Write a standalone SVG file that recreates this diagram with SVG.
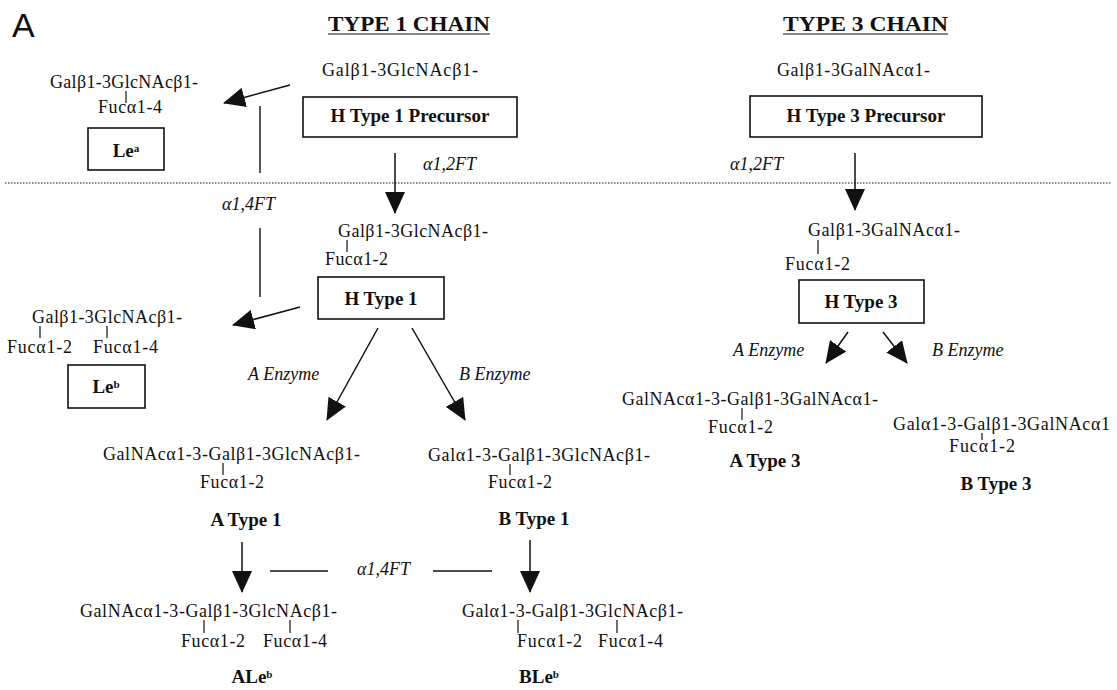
<svg xmlns="http://www.w3.org/2000/svg" width="1117" height="690" viewBox="0 0 1117 690">
<style>
  text { font-family: "Liberation Serif", "Times New Roman", serif; fill: #111; }
  .t { font-family: "Liberation Serif", "Times New Roman", serif; font-size: 18px; }
  .b { font-family: "Liberation Serif", "Times New Roman", serif; font-size: 19px; font-weight: bold; }
  .i { font-family: "Liberation Serif", "Times New Roman", serif; font-size: 18px; font-style: italic; }
  .h { font-family: "Liberation Serif", "Times New Roman", serif; font-size: 22px; font-weight: bold; }
  .sup { font-size: 11px; }
  .box { fill: #fff; stroke: #111; stroke-width: 1.6; }
  .ln { stroke: #111; stroke-width: 1.4; fill: none; }
  .tk { stroke: #111; stroke-width: 1.2; }
  .ar { stroke: #111; stroke-width: 1.5; fill: none; marker-end: url(#ah); }
</style>
<defs>
  <marker id="ah" viewBox="0 0 22 20" refX="21" refY="10" markerWidth="22" markerHeight="20" markerUnits="userSpaceOnUse" orient="auto">
    <path d="M0,0 L22,10 L0,20 z" fill="#111"/>
  </marker>
</defs>
<rect width="1117" height="690" fill="#fff"/>

<text x="12" y="37" style="font-family:'Liberation Sans',Arial,sans-serif;font-size:34px">A</text>
<g id="title1"><text class="h" x="328" y="31" textLength="162" lengthAdjust="spacingAndGlyphs">TYPE 1 CHAIN</text><line class="tk" x1="328" y1="34" x2="490" y2="34"/></g>
<g id="title3"><text class="h" x="783" y="31" textLength="165" lengthAdjust="spacingAndGlyphs">TYPE 3 CHAIN</text><line class="tk" x1="783" y1="34" x2="948" y2="34"/></g>

<line x1="5" y1="183" x2="1112" y2="183" stroke="#111" stroke-width="1.2" stroke-dasharray="1.5 1.5"/>

<g id="connectors">
  <line class="ar" x1="290" y1="85" x2="224" y2="103"/>
  <line class="ar" x1="300" y1="307" x2="233" y2="325"/>
  <line class="ar" x1="395" y1="153" x2="395" y2="213"/>
  <line class="ar" x1="855" y1="153" x2="855" y2="210"/>
  <line class="ar" x1="378" y1="328" x2="327" y2="420"/>
  <line class="ar" x1="412" y1="328" x2="465" y2="420"/>
  <line class="ar" x1="848" y1="332" x2="826" y2="363"/>
  <line class="ar" x1="883" y1="332" x2="907" y2="363"/>
  <line class="ar" x1="242" y1="542" x2="242" y2="592"/>
  <line class="ar" x1="530" y1="540" x2="530" y2="592"/>
  <line class="ln" x1="260" y1="106" x2="260" y2="173"/>
  <line class="ln" x1="260" y1="228" x2="260" y2="297"/>
  <line class="ln" x1="270" y1="571" x2="328" y2="571"/>
  <line class="ln" x1="433" y1="571" x2="492" y2="571"/>
  <text class="i" x="423" y="170">α1,2FT</text>
  <text class="i" x="730" y="170">α1,2FT</text>
  <text class="i" x="222" y="210">α1,4FT</text>
  <text class="i" x="357" y="575">α1,4FT</text>
  <text class="i" x="248" y="380">A Enzyme</text>
  <text class="i" x="459" y="380">B Enzyme</text>
  <text class="i" x="733" y="356">A Enzyme</text>
  <text class="i" x="932" y="356">B Enzyme</text>
</g>

<g id="h1precursor">
  <text class="t" x="322" y="76" textLength="156" lengthAdjust="spacing">Galβ1-3GlcNAcβ1-</text>
  <rect class="box" x="303" y="97" width="214" height="40"/>
  <text class="b" x="410" y="122" text-anchor="middle">H Type 1 Precursor</text>
</g>

<g id="h3precursor">
  <text class="t" x="777" y="76" textLength="153" lengthAdjust="spacing">Galβ1-3GalNAcα1-</text>
  <rect class="box" x="750" y="96" width="232" height="41"/>
  <text class="b" x="866" y="122" text-anchor="middle">H Type 3 Precursor</text>
</g>

<g id="lea">
  <text class="t" x="50" y="88" textLength="148" lengthAdjust="spacing">Galβ1-3GlcNAcβ1-</text>
  <line class="tk" x1="126" y1="91" x2="126" y2="103"/>
  <text class="t" x="98" y="113" textLength="64" lengthAdjust="spacing">Fucα1-4</text>
  <rect class="box" x="88" y="128" width="76" height="42"/>
  <text class="b" x="126" y="157" text-anchor="middle">Le<tspan class="sup" dy="-5">a</tspan></text>
</g>

<g id="htype1">
  <text class="t" x="338" y="237" textLength="150" lengthAdjust="spacing">Galβ1-3GlcNAcβ1-</text>
  <line class="tk" x1="347" y1="240" x2="347" y2="252"/>
  <text class="t" x="325" y="265" textLength="63" lengthAdjust="spacing">Fucα1-2</text>
  <rect class="box" x="318" y="277" width="126" height="42"/>
  <text class="b" x="381" y="305" text-anchor="middle">H Type 1</text>
</g>

<g id="leb">
  <text class="t" x="32" y="323" textLength="150" lengthAdjust="spacing">Galβ1-3GlcNAcβ1-</text>
  <line class="tk" x1="40" y1="326" x2="40" y2="338"/>
  <line class="tk" x1="107" y1="326" x2="107" y2="338"/>
  <text class="t" x="7" y="353" textLength="65" lengthAdjust="spacing">Fucα1-2</text>
  <text class="t" x="93" y="353" textLength="65" lengthAdjust="spacing">Fucα1-4</text>
  <rect class="box" x="68" y="365" width="77" height="43"/>
  <text class="b" x="106" y="393" text-anchor="middle">Le<tspan class="sup" dy="-5">b</tspan></text>
</g>

<g id="htype3">
  <text class="t" x="808" y="236" textLength="152" lengthAdjust="spacing">Galβ1-3GalNAcα1-</text>
  <line class="tk" x1="818" y1="240" x2="818" y2="254"/>
  <text class="t" x="785" y="270" textLength="65" lengthAdjust="spacing">Fucα1-2</text>
  <rect class="box" x="799" y="280" width="125" height="43"/>
  <text class="b" x="861" y="308" text-anchor="middle">H Type 3</text>
</g>

<g id="atype1">
  <text class="t" x="103" y="460" textLength="257" lengthAdjust="spacing">GalNAcα1-3-Galβ1-3GlcNAcβ1-</text>
  <line class="tk" x1="223" y1="463" x2="223" y2="475"/>
  <text class="t" x="200" y="488" textLength="64" lengthAdjust="spacing">Fucα1-2</text>
  <text class="b" x="246" y="526" text-anchor="middle">A Type 1</text>
</g>

<g id="btype1">
  <text class="t" x="428" y="461" textLength="222" lengthAdjust="spacing">Galα1-3-Galβ1-3GlcNAcβ1-</text>
  <line class="tk" x1="510" y1="464" x2="510" y2="475"/>
  <text class="t" x="488" y="488" textLength="64" lengthAdjust="spacing">Fucα1-2</text>
  <text class="b" x="534" y="525" text-anchor="middle">B Type 1</text>
</g>

<g id="aleb">
  <text class="t" x="80" y="617" textLength="257" lengthAdjust="spacing">GalNAcα1-3-Galβ1-3GlcNAcβ1-</text>
  <line class="tk" x1="204" y1="620" x2="204" y2="633"/>
  <line class="tk" x1="290" y1="620" x2="290" y2="633"/>
  <text class="t" x="181" y="647" textLength="64" lengthAdjust="spacing">Fucα1-2</text>
  <text class="t" x="263" y="647" textLength="64" lengthAdjust="spacing">Fucα1-4</text>
  <text class="b" x="252" y="683" text-anchor="middle">ALe<tspan class="sup" dy="-5">b</tspan></text>
</g>

<g id="bleb">
  <text class="t" x="462" y="617" textLength="221" lengthAdjust="spacing">Galα1-3-Galβ1-3GlcNAcβ1-</text>
  <line class="tk" x1="518" y1="620" x2="518" y2="633"/>
  <line class="tk" x1="617" y1="620" x2="617" y2="633"/>
  <text class="t" x="517" y="647" textLength="65" lengthAdjust="spacing">Fucα1-2</text>
  <text class="t" x="598" y="647" textLength="65" lengthAdjust="spacing">Fucα1-4</text>
  <text class="b" x="539" y="683" text-anchor="middle">BLe<tspan class="sup" dy="-5">b</tspan></text>
</g>

<g id="atype3">
  <text class="t" x="622" y="405" textLength="256" lengthAdjust="spacing">GalNAcα1-3-Galβ1-3GalNAcα1-</text>
  <line class="tk" x1="742" y1="408" x2="742" y2="420"/>
  <text class="t" x="708" y="433" textLength="65" lengthAdjust="spacing">Fucα1-2</text>
  <text class="b" x="765" y="467" text-anchor="middle">A Type 3</text>
</g>

<g id="btype3">
  <text class="t" x="893" y="430" textLength="217" lengthAdjust="spacing">Galα1-3-Galβ1-3GalNAcα1</text>
  <line class="tk" x1="982" y1="433" x2="982" y2="440"/>
  <text class="t" x="949" y="452" textLength="66" lengthAdjust="spacing">Fucα1-2</text>
  <text class="b" x="996" y="490" text-anchor="middle">B Type 3</text>
</g>
</svg>
